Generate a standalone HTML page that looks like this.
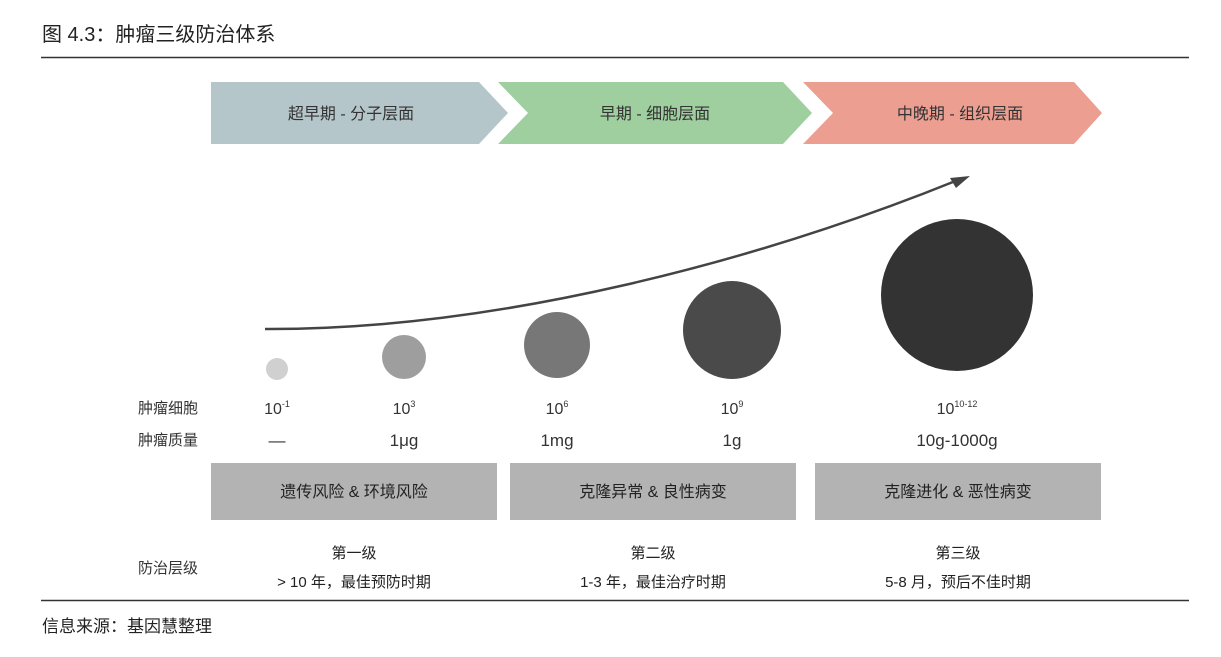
<!DOCTYPE html>
<html><head><meta charset="utf-8"><style>
body{margin:0;background:#fff;font-family:"Liberation Sans","Noto Sans CJK SC",sans-serif;}
svg text{font-family:"Liberation Sans","Noto Sans CJK SC",sans-serif;}
</style></head><body>
<svg id="c" width="1221" height="652" viewBox="0 0 1221 652" xmlns="http://www.w3.org/2000/svg">
<text x="42" y="41" font-size="20" fill="#222">图 4.3：肿瘤三级防治体系</text>
<line x1="41" y1="57.5" x2="1189" y2="57.5" stroke="#333" stroke-width="1.5"/>
<polygon points="211,82 479,82 508,113 479,144 211,144" fill="#b5c6ca"/>
<polygon points="498,82 783,82 812,113 783,144 498,144 528,113" fill="#9fcf9f"/>
<polygon points="803,82 1074,82 1102,113 1074,144 803,144 833,113" fill="#ec9e91"/>
<text x="351" y="119" font-size="16" fill="#333" text-anchor="middle">超早期 - 分子层面</text>
<text x="655" y="119" font-size="16" fill="#333" text-anchor="middle">早期 - 细胞层面</text>
<text x="960" y="119" font-size="16" fill="#333" text-anchor="middle">中晚期 - 组织层面</text>
<path d="M265,329 C500,330 760,260 958,180" fill="none" stroke="#444" stroke-width="2.5"/>
<polygon points="970,176 950,178 956,188" fill="#444"/>
<g id="circles"></g>
<text x="138" y="413" font-size="15" fill="#333">肿瘤细胞</text>
<text x="138" y="445" font-size="15" fill="#333">肿瘤质量</text>
<g id="labels"></g>
<rect x="211" y="463" width="286" height="57" fill="#b3b3b3"/>
<rect x="510" y="463" width="286" height="57" fill="#b3b3b3"/>
<rect x="815" y="463" width="286" height="57" fill="#b3b3b3"/>
<text x="354" y="497" font-size="16" fill="#222" text-anchor="middle">遗传风险 &amp; 环境风险</text>
<text x="653" y="497" font-size="16" fill="#222" text-anchor="middle">克隆异常 &amp; 良性病变</text>
<text x="958" y="497" font-size="16" fill="#222" text-anchor="middle">克隆进化 &amp; 恶性病变</text>
<text x="138" y="573" font-size="15" fill="#333">防治层级</text>
<text x="354" y="558" font-size="15" fill="#222" text-anchor="middle">第一级</text>
<text x="354" y="587" font-size="15" fill="#222" text-anchor="middle">&gt; 10 年，最佳预防时期</text>
<text x="653" y="558" font-size="15" fill="#222" text-anchor="middle">第二级</text>
<text x="653" y="587" font-size="15" fill="#222" text-anchor="middle">1-3 年，最佳治疗时期</text>
<text x="958" y="558" font-size="15" fill="#222" text-anchor="middle">第三级</text>
<text x="958" y="587" font-size="15" fill="#222" text-anchor="middle">5-8 月，预后不佳时期</text>
<line x1="41" y1="600.5" x2="1189" y2="600.5" stroke="#333" stroke-width="1.5"/>
<text x="42" y="632" font-size="17" fill="#222">信息来源：基因慧整理</text>
</svg>
<script>
const stages=["s1","s2","s3","s4","s5"];
const cellExp=["-1","3","6","9","10-12"];
const massLabels=["—","1μg","1mg","1g","10g-1000g"];
const radii=[11,22,33,49,76];
const fills=["#d0d0d0","#9e9e9e","#777777","#4a4a4a","#333333"];
const ns="http://www.w3.org/2000/svg";
const cx=[277,404,557,732,957];
const cy=[369,357,345,330,295];
const cg=document.getElementById('circles'), lg=document.getElementById('labels');
stages.forEach((s,i)=>{
  const c=document.createElementNS(ns,'circle');
  c.setAttribute('cx',cx[i]);c.setAttribute('cy',cy[i]);c.setAttribute('r',radii[i]);c.setAttribute('fill',fills[i]);
  
  
  cg.appendChild(c);
  const t=document.createElementNS(ns,'text');
  t.setAttribute('x',cx[i]);t.setAttribute('y',414);t.setAttribute('font-size','16');t.setAttribute('fill','#333');t.setAttribute('text-anchor','middle');
  const b=document.createElementNS(ns,'tspan');b.textContent='10';t.appendChild(b);
  const e=document.createElementNS(ns,'tspan');e.textContent=cellExp[i];e.setAttribute('font-size','9');e.setAttribute('dy','-7');t.appendChild(e);
  
  
  lg.appendChild(t);
  const m=document.createElementNS(ns,'text');
  m.setAttribute('x',cx[i]);m.setAttribute('y',446);m.setAttribute('font-size','17');m.setAttribute('fill','#333');m.setAttribute('text-anchor','middle');
  m.textContent=massLabels[i];
  
  
  lg.appendChild(m);
});
</script>
</body></html>
